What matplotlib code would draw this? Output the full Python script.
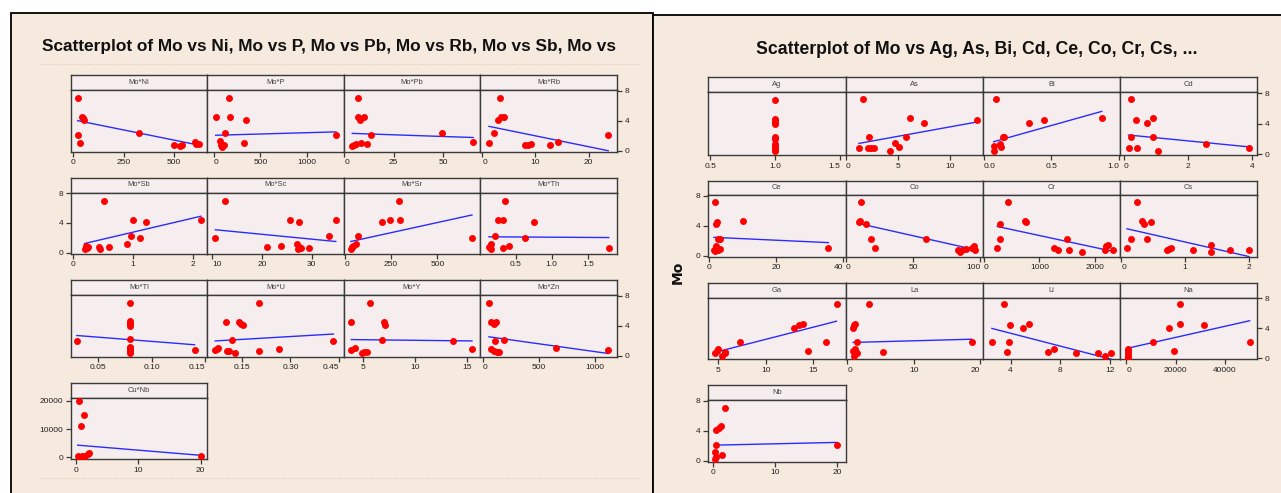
import numpy as np
import matplotlib
matplotlib.use('Agg')
import matplotlib.pyplot as plt
from matplotlib.patches import Rectangle
from matplotlib.lines import Line2D
from matplotlib import font_manager as fm

# ---------------- data ----------------
# left sheet: Mo vs Ni, P, Pb, Rb, Sb, Sc, Sr, Th, Tl, U, Y, Zn and Cu vs Nb
ni_x = [21, 21, 35, 42, 48, 54, 327, 500, 529, 540, 602, 608, 623]
ni_mo = [7.06, 2.07, 1.08, 4.5, 4.3, 4.1, 2.3, 0.76, 0.58, 0.7, 1.17, 0.85, 0.94]
p_x = [22, 70, 79, 92, 110, 118, 162, 175, 342, 329, 1307]
p_mo = [4.5, 1.3, 0.76, 0.54, 0.76, 2.3, 7.06, 4.5, 4.1, 1.08, 2.07]
pb_x = [4, 4.8, 6, 7.1, 7, 7.8, 8.6, 10, 11.5, 13.4, 49.6, 65.3]
pb_mo = [0.58, 0.76, 0.94, 7.06, 4.5, 4.1, 1.08, 4.5, 0.85, 2.07, 2.3, 1.2]
rb_x = [1.24, 2.25, 2.95, 3.33, 3.5, 4.0, 8.0, 8.6, 9.15, 12.8, 14.3, 23.7]
rb_mo = [1.08, 2.3, 4.1, 7.06, 4.5, 4.5, 0.7, 0.76, 0.85, 0.7, 1.2, 2.07]
sb_x = [0.195, 0.22, 0.24, 0.26, 0.43, 0.45, 0.52, 0.6, 0.9, 0.97, 1.0, 1.12, 1.21, 2.13]
sb_mo = [0.45, 0.9, 0.63, 0.77, 0.77, 0.54, 7.0, 0.77, 1.18, 2.2, 4.4, 2.0, 4.1, 4.4]
sc_x = [10.7, 12.55, 21.0, 23.8, 25.55, 27.1, 27.4, 27.4, 27.2, 27.9, 29.5, 33.5, 34.8]
sc_mo = [2.0, 7.0, 0.77, 0.95, 4.4, 1.18, 4.1, 0.77, 0.45, 0.63, 0.63, 2.2, 4.4]
sr_x = [33.6, 40, 47, 60.5, 70, 199.5, 242, 291, 298, 686]
sr_mo = [0.45, 0.72, 0.9, 1.18, 2.2, 4.1, 4.4, 7.0, 4.4, 2.0]
th_x = [0.13, 0.155, 0.165, 0.22, 0.26, 0.33, 0.35, 0.33, 0.41, 0.63, 0.76, 1.79]
th_mo = [0.77, 0.45, 1.18, 2.2, 4.4, 4.4, 7.0, 0.63, 0.95, 2.0, 4.1, 0.63]
tl_x = [0.030, 0.080, 0.080, 0.080, 0.080, 0.080, 0.080, 0.080, 0.080, 0.080, 0.080, 0.080, 0.140]
tl_mo = [2.0, 7.0, 4.6, 4.4, 4.2, 4.0, 2.2, 1.2, 1.0, 0.8, 0.6, 0.4, 0.8]
u_x = [0.069, 0.074, 0.079, 0.101, 0.106, 0.111, 0.121, 0.131, 0.141, 0.147, 0.154, 0.202, 0.202, 0.264, 0.432]
u_mo = [0.78, 0.97, 1.1, 4.46, 0.64, 0.64, 2.16, 0.41, 4.46, 4.28, 4.09, 7.08, 0.64, 0.97, 1.98]
y_x = [3.88, 3.88, 4.2, 4.92, 5.08, 5.36, 5.72, 6.8, 7.0, 7.16, 13.68, 15.48]
y_mo = [4.46, 0.78, 1.1, 0.41, 0.5, 0.55, 7.08, 2.16, 4.46, 4.09, 1.98, 0.97]
zn_x = [55, 77, 99, 121, 77, 99, 107, 125, 147, 187, 651, 1121]
zn_mo = [7.08, 4.46, 4.28, 4.46, 0.97, 0.64, 1.98, 0.55, 0.55, 2.16, 1.1, 0.78]
cunb_x = [0.54, 0.81, 1.28, 0.34, 0.6, 1.0, 1.55, 1.96, 2.2, 20.0]
cunb_cu = [20000, 11070, 15000, 600, 120, 360, 600, 1300, 1550, 600]

# right sheet: Mo vs Ag, As, Bi, Cd, Ce, Co, Cr, Cs, Ga, La, Li, Na, Nb
ag_x = [1.0, 1.0, 1.0, 1.0, 1.0, 1.0, 1.0, 1.0, 1.0, 1.0, 1.0, 1.0]
ag_mo = [7.1, 4.6, 4.4, 4.2, 4.0, 2.2, 2.0, 1.3, 1.0, 0.8, 0.6, 0.35]
as_x = [1.23, 1.58, 2.1, 2.2, 2.4, 2.7, 4.2, 4.7, 5.08, 5.7, 6.1, 7.5, 12.5]
as_mo = [0.75, 7.2, 0.75, 2.2, 0.75, 0.75, 0.42, 1.4, 0.94, 2.2, 4.7, 4.1, 4.5]
bi_x = [0.074, 0.08, 0.092, 0.12, 0.13, 0.14, 0.154, 0.333, 0.45, 0.874]
bi_mo = [0.38, 1.0, 7.2, 1.3, 0.94, 2.2, 2.2, 4.1, 4.5, 4.7]
cd_x = [0.15, 0.24, 0.24, 0.385, 0.41, 0.72, 0.91, 0.91, 1.07, 2.56, 3.91]
cd_mo = [0.75, 7.2, 2.2, 4.5, 0.75, 4.1, 4.7, 2.2, 0.42, 1.3, 0.75]
ce_x = [1.82, 2.06, 2.3, 1.45, 1.82, 2.06, 2.5, 3.15, 2.7, 3.15, 10.1, 35.5]
ce_mo = [7.2, 4.2, 4.5, 0.83, 0.6, 1.25, 2.2, 2.2, 0.74, 0.93, 4.7, 1.06]
co_x = [9.6, 11.1, 10.8, 14.7, 18.9, 21.6, 59.8, 83.5, 85, 86.5, 89.5, 93.7, 95.2, 96]
co_mo = [4.5, 7.2, 4.7, 4.2, 2.2, 1.0, 2.2, 0.83, 0.46, 0.74, 0.93, 1.06, 1.25, 0.74]
cr_x = [239, 283, 297, 442, 732, 761, 1261, 1340, 1507, 1529, 1768, 2181, 2210, 2232, 2326]
cr_mo = [1.06, 4.2, 2.2, 7.2, 4.7, 4.5, 1.06, 0.83, 2.2, 0.83, 0.46, 0.83, 1.25, 1.43, 0.83]
cs_x = [0.09, 0.16, 0.24, 0.33, 0.36, 0.41, 0.46, 0.71, 0.75, 0.78, 1.12, 1.41, 1.41, 1.7, 2.0]
cs_mo = [1.0, 2.2, 7.2, 4.7, 4.2, 2.2, 4.5, 0.83, 0.93, 1.06, 0.83, 1.43, 0.46, 0.83, 0.83]
ga_x = [4.62, 4.8, 4.9, 5.34, 5.65, 5.73, 7.28, 12.97, 13.5, 13.97, 14.5, 16.4, 17.5]
ga_mo = [0.66, 0.95, 1.28, 0.38, 0.66, 0.8, 2.13, 4.12, 4.5, 4.64, 0.95, 2.13, 7.2]
la_x = [0.85, 1.03, 1.2, 0.9, 1.03, 1.2, 1.4, 1.5, 3.3, 5.3, 18.7]
la_mo = [4.12, 4.5, 4.64, 0.95, 0.38, 1.28, 2.13, 0.66, 7.2, 0.9, 2.13]
li_x = [2.5, 3.48, 3.74, 3.84, 3.94, 5.0, 5.5, 7.0, 7.5, 9.3, 11.0, 11.6, 12.1]
li_mo = [2.13, 7.2, 0.9, 2.13, 4.5, 4.12, 4.64, 0.8, 1.28, 0.66, 0.66, 0.28, 0.66]
na_x = [650, 650, 650, 650, 650, 10650, 17540, 19350, 21970, 21970, 31640, 50160]
na_mo = [0.66, 1.28, 0.38, 0.95, 0.1, 2.13, 4.12, 0.95, 7.2, 4.64, 4.5, 2.13]
nb_x = [0.4, 0.26, 0.4, 0.26, 0.53, 0.86, 1.25, 1.38, 1.9, 20.0]
nb_mo = [2.08, 1.16, 0.56, 0.23, 4.07, 4.4, 4.58, 0.83, 7.04, 2.08]

# regression lines: (intercept, slope)
fit_left = {
    'Ni': (4.114, -0.00543), 'P': (2.042, 0.000352), 'Pb': (2.336, -0.00897),
    'Rb': (3.42, -0.1449), 'Sb': (0.852, 1.9005), 'Sc': (3.78, -0.06556),
    'Sr': (1.316, 0.005472), 'Th': (2.138, -0.061), 'Tl': (3.041, -11.22),
    'U': (1.805, 2.534), 'Y': (2.22, -0.01552), 'Zn': (2.645, -0.002087),
    'CuNb': (4352, -181.9),
}
fit_right = {
    'As': (1.094, 0.2484), 'Bi': (1.252, 4.975), 'Cd': (2.562, -0.4149),
    'Ce': (2.4875, -0.02061), 'Co': (4.687, -0.04032), 'Cr': (4.289, -0.001586),
    'Cs': (3.774, -1.937), 'Ga': (-0.68, 0.3224), 'La': (2.11, 0.0241),
    'Li': (5.072, -0.4289), 'Na': (1.322, 7.38e-5), 'Nb': (2.079, 0.01857),
}

mo_ticks = [0, 4, 8]
cu_ticks = [0, 10000, 20000]

left_titles = ["Mo*Ni", "Mo*P", "Mo*Pb", "Mo*Rb", "Mo*Sb", "Mo*Sc", "Mo*Sr", "Mo*Th",
               "Mo*Tl", "Mo*U", "Mo*Y", "Mo*Zn", "Cu*Nb"]
right_titles = ["Ag", "As", "Bi", "Cd", "Ce", "Co", "Cr", "Cs", "Ga", "La", "Li", "Na", "Nb"]

left_xticks = [["0", "250", "500"], ["0", "500", "1000"], ["0", "25", "50"], ["0", "10", "20"],
               ["0", "1", "2"], ["10", "20", "30"], ["0", "250", "500"], ["0.5", "1.0", "1.5"],
               ["0.05", "0.10", "0.15"], ["0.15", "0.30", "0.45"], ["5", "10", "15"],
               ["0", "500", "1000"], ["0", "10", "20"]]
right_xticks = [["0.5", "1.0", "1.5"], ["0", "5", "10"], ["0.0", "0.5", "1.0"], ["0", "2", "4"],
                ["0", "20", "40"], ["0", "50", "100"], ["0", "1000", "2000"], ["0", "1", "2"],
                ["5", "10", "15"], ["0", "10", "20"], ["4", "8", "12"], ["0", "20000", "40000"],
                ["0", "10", "20"]]

left_xlims = [(-12, 665), (-66, 1390), (-0.3, 68.9), (-0.4, 25.3), (-0.03, 2.24), (9.1, 36.4),
              (-4.5, 731), (0.01, 1.9), (0.0245, 0.152), (0.045, 0.464), (3.16, 16.28),
              (-22, 1195), (-0.74, 21.1)]
right_xlims = [(0.484, 1.544), (-0.05, 13.1), (-0.006, 1.009), (-0.115, 4.155), (-0.24, 40.6),
               (-0.3, 101.8), (-22, 2457), (-0.02, 2.13), (3.92, 18.45), (-0.3, 20.4),
               (1.77, 12.8), (-2600, 53300), (-0.79, 21.4)]

# ---------------- layout / style ----------------
W, H = 1281, 493
SHEET_BG = '#F6E9DE'
PLOT_BG = '#F6EEEE'
FRAME = '#3A3A3A'
DOT = '#FF0000'
LINE = '#2B2BFF'


def has_font(name):
    try:
        fm.findfont(fm.FontProperties(family=name), fallback_to_default=False)
        return True
    except Exception:
        return False


NARROW = 'Liberation Sans Narrow' if has_font('Liberation Sans Narrow') else 'Liberation Sans'
TICK_FONT = [NARROW, 'DejaVu Sans']

fig = plt.figure(figsize=(W / 100, H / 100), dpi=100, facecolor='white')

# sheet backgrounds
fig.add_artist(Rectangle((11 / W, -0.02), (653 - 11) / W, 1 - 13 / H + 0.02,
                         transform=fig.transFigure, fc=SHEET_BG, ec='black', lw=1.3, zorder=0))
fig.add_artist(Rectangle((653 / W, -0.02), (1300 - 653) / W, 1 - 15 / H + 0.02,
                         transform=fig.transFigure, fc=SHEET_BG, ec='black', lw=1.3, zorder=0))
for yy in (64, 478):
    fig.add_artist(Line2D([40 / W, 640 / W], [1 - yy / H] * 2, ls=':', lw=0.8,
                          color='#D8C6B4', transform=fig.transFigure))


def px_axes(x0, x1, ytop, ybot):
    return fig.add_axes([x0 / W, 1 - ybot / H, (x1 - x0) / W, (ybot - ytop) / H])


def style_frame(ax):
    for s in ax.spines.values():
        s.set_color(FRAME)
        s.set_linewidth(1.0)


def draw_panel(x0, x1, row, label, xs, ys, fit, xlim, xlabels, ylim, yticks, yside,
               has_left, has_right):
    st, sb, pb = row
    sax = px_axes(x0, x1, st, sb)
    sax.set_facecolor(PLOT_BG)
    sax.set_xticks([])
    sax.set_yticks([])
    style_frame(sax)
    sax.text(0.5, 0.5, label, ha='center', va='center', fontsize=5.4, color='#404040',
             family=TICK_FONT, transform=sax.transAxes)

    ax = px_axes(x0, x1, sb, pb)
    ax.set_facecolor(PLOT_BG)
    style_frame(ax)
    xs = np.asarray(xs, float)
    ys = np.asarray(ys, float)
    if fit is not None:
        xx = np.array([xs.min(), xs.max()])
        ax.plot(xx, fit[0] + fit[1] * xx, color=LINE, lw=1.0, zorder=2)
    ax.plot(xs, ys, 'o', color=DOT, ms=5.0, mec=DOT, mew=0, zorder=3)
    ax.set_xlim(*xlim)
    ax.set_ylim(*ylim)
    xt = [float(v) for v in xlabels]
    ax.set_xticks(xt)
    ax.set_xticklabels(xlabels)
    ax.tick_params(axis='x', direction='out', length=3.5, width=0.9, color=FRAME,
                   labelsize=6.0, pad=2, labelcolor='#222222')
    # labels of ticks that sit on a shared panel edge are pushed away from the edge
    for v, lab in zip(xt, ax.get_xticklabels()):
        pos = x0 + (v - xlim[0]) / (xlim[1] - xlim[0]) * (x1 - x0)
        if has_left and pos - x0 < 7:
            lab.set_horizontalalignment('left')
        elif has_right and x1 - pos < 7:
            lab.set_horizontalalignment('right')
    if yside is None:
        ax.set_yticks([])
    else:
        ax.set_yticks(yticks)
        ax.set_yticklabels([str(v) for v in yticks])
        if yside == 'right':
            ax.yaxis.tick_right()
        ax.tick_params(axis='y', direction='out', length=3.5, width=0.9, color=FRAME,
                       labelsize=6.0, pad=2, labelcolor='#222222')
    for lab in ax.get_xticklabels() + ax.get_yticklabels():
        lab.set_family(TICK_FONT)
    return ax


MO_LIM = (-0.12, 8.1)
CU_LIM = (-700, 20950)

L_COLS = [71, 207.4, 343.8, 480.3, 616.7]
L_ROWS = [(75, 90, 151.5), (177.5, 192.5, 253.5), (280, 295, 356.7), (382.7, 398, 459.3)]
R_COLS = [708.3, 845.5, 982.8, 1120, 1257.3]
R_ROWS = [(77.3, 92.3, 155), (180.7, 195, 256.7), (282.7, 297.7, 359.3), (385, 400, 461.7)]

left_x = [ni_x, p_x, pb_x, rb_x, sb_x, sc_x, sr_x, th_x, tl_x, u_x, y_x, zn_x, cunb_x]
left_y = [ni_mo, p_mo, pb_mo, rb_mo, sb_mo, sc_mo, sr_mo, th_mo, tl_mo, u_mo, y_mo, zn_mo, cunb_cu]
left_keys = ['Ni', 'P', 'Pb', 'Rb', 'Sb', 'Sc', 'Sr', 'Th', 'Tl', 'U', 'Y', 'Zn', 'CuNb']
right_x = [ag_x, as_x, bi_x, cd_x, ce_x, co_x, cr_x, cs_x, ga_x, la_x, li_x, na_x, nb_x]
right_y = [ag_mo, as_mo, bi_mo, cd_mo, ce_mo, co_mo, cr_mo, cs_mo, ga_mo, la_mo, li_mo, na_mo, nb_mo]
N = len(left_titles)


def yside_for(i):
    r, c = divmod(i, 4)
    if r in (0, 2) and c == 3:
        return 'right'
    if r in (1, 3) and c == 0:
        return 'left'
    return None


for i in range(N):
    r, c = divmod(i, 4)
    has_left = c > 0
    has_right = c < 3 and i + 1 < N
    is_cu = left_keys[i] == 'CuNb'
    draw_panel(L_COLS[c], L_COLS[c + 1], L_ROWS[r], left_titles[i], left_x[i], left_y[i],
               fit_left.get(left_keys[i]), left_xlims[i], left_xticks[i],
               CU_LIM if is_cu else MO_LIM, cu_ticks if is_cu else mo_ticks, yside_for(i),
               has_left, has_right)
    draw_panel(R_COLS[c], R_COLS[c + 1], R_ROWS[r], right_titles[i], right_x[i], right_y[i],
               fit_right.get(right_titles[i]), right_xlims[i], right_xticks[i],
               MO_LIM, mo_ticks, yside_for(i), has_left, has_right)

fig.text(678 / W, 1 - 272 / H, 'Mo', rotation=90, ha='center', va='center',
         fontsize=10, fontweight='bold', color='#111111')

TITLE_FONT = [NARROW, 'DejaVu Sans']
renderer = fig.canvas.get_renderer()


def fitted_title(xc, yc, text, target_w):
    t = fig.text(xc / W, 1 - yc / H, text, ha='center', va='center', fontsize=13,
                 fontweight='bold', family=TITLE_FONT, color='#111111')
    w = t.get_window_extent(renderer).width
    t.set_fontsize(min(14.5, 13 * target_w / w))
    return t


fitted_title(329.5, 47, "Scatterplot of Mo vs Ni, Mo vs P, Mo vs Pb, Mo vs Rb, Mo vs Sb, Mo vs", 575)
fitted_title(977, 50, "Scatterplot of Mo vs Ag, As, Bi, Cd, Ce, Co, Cr, Cs, ...", 440)

fig.savefig('out.png', dpi=100, facecolor='white')
